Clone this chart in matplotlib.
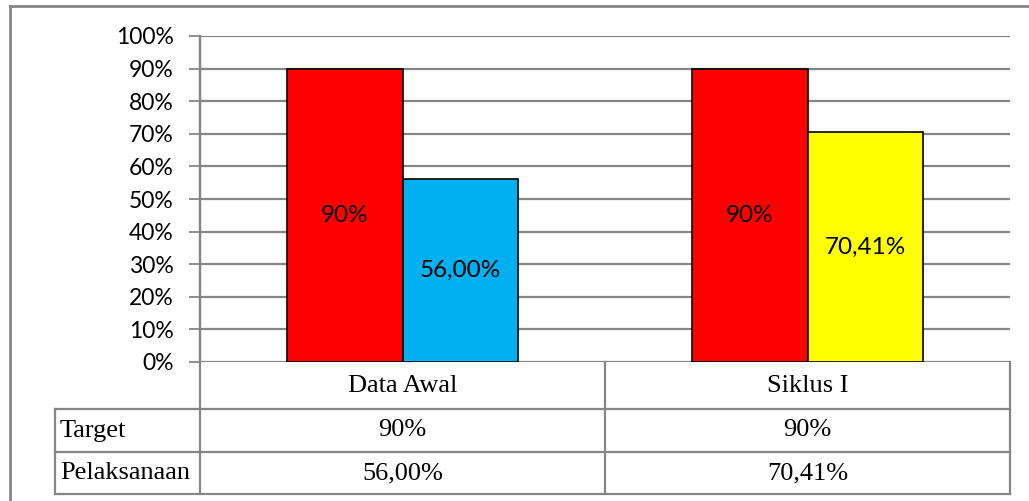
import matplotlib.pyplot as plt
from matplotlib.lines import Line2D

categories = ["Data Awal", "Siklus I"]
target = [90.0, 90.0]
pelaksanaan = [56.00, 70.41]
target_labels = ["90%", "90%"]
pelaksanaan_labels = ["56,00%", "70,41%"]
pelaksanaan_colors = ["#00b0f0", "#ffff00"]
row_names = ["Target", "Pelaksanaan"]
yticks = list(range(0, 101, 10))

W, H = 1029, 501
fig = plt.figure(figsize=(W / 100, H / 100), dpi=100)

# plot area placed in pixel terms
x0, x1, ytop, ybot = 200, 1010, 36, 362
ax = fig.add_axes([x0 / W, 1 - ybot / H, (x1 - x0) / W, (ybot - ytop) / H])

sans = ["Lato", "DejaVu Sans"]
serif = ["Liberation Serif", "DejaVu Serif"]
grid_c = "#868686"

bw = 0.2857
xs = range(len(categories))
for i in xs:
    ax.bar(i - bw / 2, target[i], width=bw, color="#ff0000", edgecolor="black", linewidth=1.2, zorder=3)
    ax.bar(i + bw / 2, pelaksanaan[i], width=bw, color=pelaksanaan_colors[i], edgecolor="black", linewidth=1.2, zorder=3)
    ax.text(i - bw / 2, target[i] / 2, target_labels[i], ha="center", va="center", fontsize=17.5, family=sans, zorder=4)
    ax.text(i + bw / 2, pelaksanaan[i] / 2, pelaksanaan_labels[i], ha="center", va="center", fontsize=17.5, family=sans, zorder=4)

ax.set_xlim(-0.5, len(categories) - 0.5)
ax.set_ylim(0, 100)
ax.set_yticks(yticks)
ax.set_yticklabels([f"{v}%" for v in yticks], fontsize=16.5, family=sans)
ax.set_xticks([])
ax.yaxis.grid(True, color=grid_c, linewidth=1.6, zorder=0)
ax.tick_params(axis="y", length=8, width=1.3, color=grid_c, pad=11)
for s in ["top", "right", "bottom"]:
    ax.spines[s].set_visible(False)
ax.spines["left"].set_color(grid_c)
ax.spines["left"].set_linewidth(1.6)
ax.set_axisbelow(True)


def px_line(xa, ya, xb, yb, lw=1.6):
    fig.add_artist(Line2D([xa / W, xb / W], [1 - ya / H, 1 - yb / H],
                          transform=fig.transFigure, color=grid_c, linewidth=lw))


def px_text(x, y, s, ha="center"):
    fig.text(x / W, 1 - y / H, s, ha=ha, va="center", fontsize=19, family=serif)


# data table under the plot
xmid = (x0 + x1) / 2
rows = [362, 409, 452, 494]
px_line(x0, ytop, x0, rows[-1])
px_line(xmid, rows[0], xmid, rows[-1])
px_line(x1, rows[0], x1, rows[-1])
px_line(55, rows[1], 55, rows[-1])
for y in rows[1:]:
    px_line(55, y, x1, y)

centers = [(x0 + xmid) / 2, (xmid + x1) / 2]
for i, cat in enumerate(categories):
    px_text(centers[i], (rows[0] + rows[1]) / 2, cat)
    px_text(centers[i], (rows[1] + rows[2]) / 2, target_labels[i])
    px_text(centers[i], (rows[2] + rows[3]) / 2, pelaksanaan_labels[i])
for r, name in enumerate(row_names):
    px_text(60, (rows[r + 1] + rows[r + 2]) / 2, name, ha="left")

# outer chart frame
px_line(10, 6, W + 5, 6, lw=2)
px_line(10, 6, 10, H + 5, lw=2)

fig.savefig("out.png", dpi=100)
